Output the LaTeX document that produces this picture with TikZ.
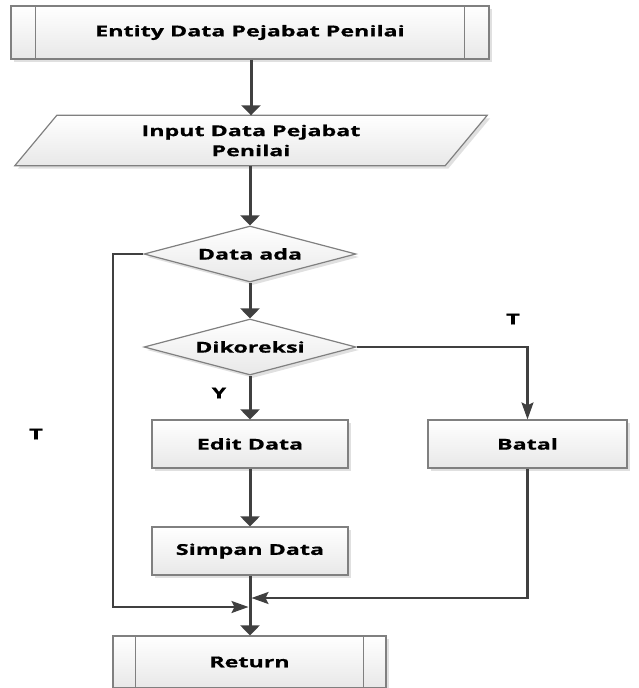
\documentclass[tikz,border=0pt]{standalone}
\usepackage{fontspec}
\newfontfamily\lblfont{Open Sans}[FakeStretch=1.55,FakeBold=0.6]
\usetikzlibrary{arrows.meta,shapes.geometric,shadows,calc}

\definecolor{linegray}{RGB}{64,64,64}
\definecolor{edgegray}{RGB}{128,128,128}
\definecolor{shadegray}{RGB}{232,232,232}

\tikzset{
  lbl/.style={font=\lblfont\bfseries\fontsize{15}{20}\selectfont, text=black, align=center},
  boxshade/.style={top color=white, bottom color=shadegray, draw=edgegray, line width=1.2pt,
    drop shadow={shadow xshift=3pt, shadow yshift=-3pt, fill=black!12, opacity=1}},
  procbox/.style={lbl, rectangle, boxshade, inner sep=0pt},
  subbox/.style={lbl, rectangle, boxshade, inner sep=0pt},
  decision/.style={lbl, diamond, boxshade, aspect=3.8, inner sep=0pt,
    minimum width=212pt, minimum height=56pt},
  flow/.style={draw=linegray, line width=3pt, -{Triangle[width=19pt,length=10pt]}},
  sideflow/.style={draw=linegray, line width=2.2pt, -{Stealth[width=12pt,length=17pt,inset=3pt]}},
  branchlbl/.style={lbl}
}

\begin{document}
\begin{tikzpicture}[x=1pt,y=-1pt]
  \useasboundingbox (0,0) rectangle (638,688);

  % start: predefined process
  \node[subbox, minimum width=478pt, minimum height=53pt] (ent) at (250,32.5) {Entity Data Pejabat Penilai};
  \draw[edgegray, line width=1.2pt] ($(ent.north west)+(25,0)$) -- ($(ent.south west)+(25,0)$)
                                    ($(ent.north east)+(-25,0)$) -- ($(ent.south east)+(-25,0)$);

  % input (parallelogram)
  \node[lbl, rectangle, draw=none, minimum width=472pt, minimum height=50pt, inner sep=0pt] (inp) at (251,140.5) {};
  \path[boxshade] (inp.south west) -- ($(inp.north west)+(42,0)$) -- (inp.north east)
                 -- ($(inp.south east)+(-42,0)$) -- cycle;
  \node[lbl] (inptxt) at (inp.center) {Input Data Pejabat\\Penilai};

  % decisions
  \node[decision] (ada) at (250,254) {Data ada};
  \node[decision] (kor) at (250,347) {Dikoreksi};

  % processes
  \node[procbox, minimum width=196pt, minimum height=48pt] (edit) at (250,444) {Edit Data};
  \node[procbox, minimum width=196pt, minimum height=48pt] (simpan) at (250,551) {Simpan Data};
  \node[procbox, minimum width=199pt, minimum height=48pt] (batal) at (527.5,444) {Batal};

  % end: predefined process
  \node[subbox, minimum width=273pt, minimum height=52pt] (ret) at (249.5,662) {Return};
  \draw[edgegray, line width=1.2pt] ($(ret.north west)+(23,0)$) -- ($(ret.south west)+(23,0)$)
                                    ($(ret.north east)+(-23,0)$) -- ($(ret.south east)+(-23,0)$);

  % merge points on the main line
  \coordinate (mergeL) at (248.5,607);
  \coordinate (mergeR) at (251.5,598);

  % main flow
  \draw[flow] (ent.south -| inp.north) -- (inp.north);
  \draw[flow] (inp.south -| ada.north) -- (ada.north);
  \draw[flow] (ada.south) -- (kor.north);
  \draw[flow] (kor.south) -- (edit.north);
  \draw[flow] (edit.south) -- (simpan.north);
  \draw[flow] (simpan.south) -- (ret.north -| simpan.south);

  % branches
  \draw[sideflow] (ada.west) -- (113,254) |- (mergeL);
  \draw[sideflow] (kor.east) -| (batal.north);
  \draw[sideflow] (batal.south) |- (mergeR);

  % branch labels
  \node[branchlbl] (tkor) at (513,319) {T};
  \node[branchlbl] (yes) at (219,393) {Y};
  \node[branchlbl] (tada) at (36,434) {T};
\end{tikzpicture}
\end{document}
